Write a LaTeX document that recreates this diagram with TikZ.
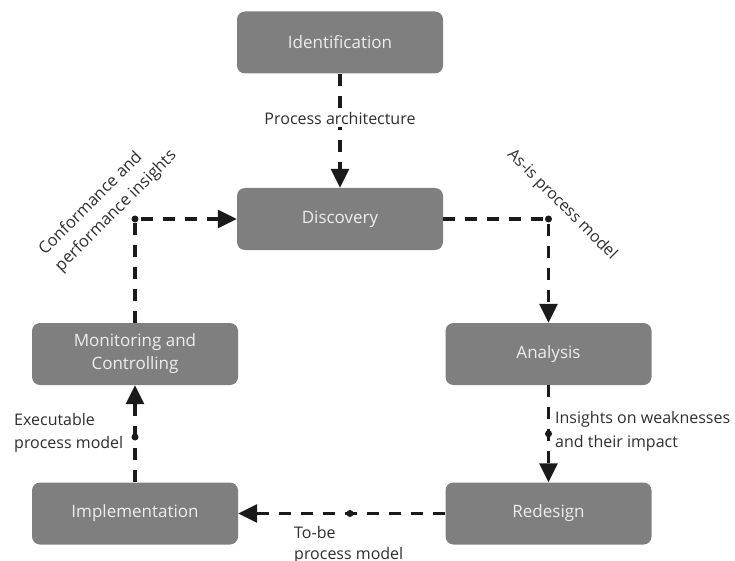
\documentclass[tikz,border=0pt]{standalone}
\usepackage{fontspec}
\setmainfont{Open Sans}
\usetikzlibrary{arrows.meta,calc}

\definecolor{boxgray}{HTML}{7F7F7F}
\definecolor{boxtext}{HTML}{EDEDED}
\definecolor{labeltext}{HTML}{2E2E2E}
\definecolor{linecol}{HTML}{1A1A1A}

\tikzset{
  phase/.style={draw=none, fill=boxgray, rounded corners=8pt,
    minimum width=206pt, minimum height=62pt, text=boxtext,
    font=\fontsize{17}{23}\selectfont, align=center, inner sep=0pt},
  flow/.style={draw=linecol, line width=3.2pt, dash pattern=on 12pt off 10pt,
    -{Triangle[length=19pt,width=18pt]}},
  joint/.style={circle, fill=linecol, inner sep=0pt, minimum size=7pt},
  lbl/.style={text=labeltext, font=\fontsize{16}{24}\selectfont, inner sep=1pt}
}

\begin{document}
\begin{tikzpicture}[x=1pt,y=-1pt]
\useasboundingbox (0,0) rectangle (735,561);

% process phases
\node[phase] (ident) at (340,42.5) {Identification};
\node[phase] (disc)  at (340,219)  {Discovery};
\node[phase] (mon)   at (135,354)  {Monitoring and\\Controlling};
\node[phase] (anal)  at (548.5,354) {Analysis};
\node[phase] (impl)  at (135,513.5) {Implementation};
\node[phase] (redes) at (548.5,513.5) {Redesign};

% bend points of the cycle
\coordinate (kMon) at (mon.north |- disc.west);
\coordinate (kDisc) at (anal.north |- disc.east);
\coordinate (mAnal) at ($(anal.south)!0.5!(redes.north)$);
\coordinate (mRed) at (350,513.5);
\coordinate (mImpl) at (135,437);

% connectors
\draw[flow] (ident) -- (disc);
\draw[flow] (mon.north) -- (kMon) -- (disc.west);
\draw[flow] (disc.east) -- (kDisc) -- (anal.north);
\draw[flow] (anal.south) -- (redes.north);
\draw[flow] (redes.west) -- (impl.east);
\draw[flow] (impl.north) -- (mon.south);

% joints on the connectors
\node[joint] at (kMon) {};
\node[joint] at (kDisc) {};
\node[joint] at (mAnal) {};
\node[joint] at (mRed) {};
\node[joint] at (mImpl) {};

% connector labels
\node[lbl, fill=white, inner sep=2pt] (lArch) at (340,119) {Process architecture};
\node[lbl, rotate=45, align=left, font=\fontsize{16.5}{23}\selectfont] (lConf) at (108,203)
  {Conformance and\\performance insights};
\node[lbl, rotate=-45] (lAsis) at (562,205) {As-is process model};
\node[lbl, anchor=west, align=left, font=\fontsize{16}{24}\selectfont] (lIns) at (554,431)
  {Insights on weaknesses\\and their impact};
\node[lbl, anchor=west, align=left, font=\fontsize{16}{23}\selectfont] (lExe) at (13,433)
  {Executable\\process model};
\node[lbl, anchor=north west, align=left, font=\fontsize{16}{21}\selectfont] (lTobe) at (293,525)
  {To-be\\process model};
\end{tikzpicture}
\end{document}
